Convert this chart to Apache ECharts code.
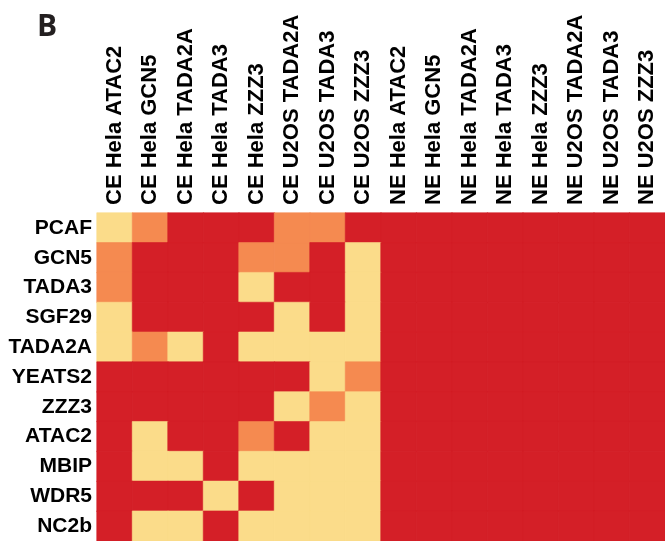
<!DOCTYPE html>
<html>
<head>
<meta charset="utf-8">
<script src="https://cdn.jsdelivr.net/npm/echarts@6/dist/echarts.min.js"></script>
<style>html,body{margin:0;padding:0;background:#fff;}#c{width:665px;height:541px;}</style>
</head>
<body>
<div id="c"></div>
<script>
const columns = ['CE Hela ATAC2','CE Hela GCN5','CE Hela TADA2A','CE Hela TADA3','CE Hela ZZZ3','CE U2OS TADA2A','CE U2OS TADA3','CE U2OS ZZZ3',
                 'NE Hela ATAC2','NE Hela GCN5','NE Hela TADA2A','NE Hela TADA3','NE Hela ZZZ3','NE U2OS TADA2A','NE U2OS TADA3','NE U2OS ZZZ3'];
const rows = ['PCAF','GCN5','TADA3','SGF29','TADA2A','YEATS2','ZZZ3','ATAC2','MBIP','WDR5','NC2b'];
// level: 0 = low (yellow), 1 = mid (orange), 2 = high (red)
const PCAF   = [0,1,2,2,2,1,1,2, 2,2,2,2,2,2,2,2];
const GCN5   = [1,2,2,2,1,1,2,0, 2,2,2,2,2,2,2,2];
const TADA3  = [1,2,2,2,0,2,2,0, 2,2,2,2,2,2,2,2];
const SGF29  = [0,2,2,2,2,0,2,0, 2,2,2,2,2,2,2,2];
const TADA2A = [0,1,0,2,0,0,0,0, 2,2,2,2,2,2,2,2];
const YEATS2 = [2,2,2,2,2,2,0,1, 2,2,2,2,2,2,2,2];
const ZZZ3   = [2,2,2,2,2,0,1,0, 2,2,2,2,2,2,2,2];
const ATAC2  = [2,0,2,2,1,2,0,0, 2,2,2,2,2,2,2,2];
const MBIP   = [2,0,0,2,0,0,0,0, 2,2,2,2,2,2,2,2];
const WDR5   = [2,2,2,0,2,0,0,0, 2,2,2,2,2,2,2,2];
const NC2b   = [2,0,0,2,0,0,0,0, 2,2,2,2,2,2,2,2];
const matrix = [PCAF,GCN5,TADA3,SGF29,TADA2A,YEATS2,ZZZ3,ATAC2,MBIP,WDR5,NC2b];

const levelColors = ['#FBDC8A', '#F58A50', '#D41F27'];

const data = [];
matrix.forEach((row, r) => row.forEach((v, c) => data.push({
  value: [c, r, v],
  itemStyle: {borderColor: levelColors[v], borderWidth: 0.6}
})));

const chart = echarts.init(document.getElementById('c'), null, {renderer: 'canvas'});
chart.setOption({
  animation: false,
  backgroundColor: '#ffffff',
  grid: {left: 97, top: 213, width: 572, height: 330, containLabel: false},
  xAxis: {
    type: 'category', position: 'top', data: columns,
    axisLine: {show: false}, axisTick: {show: false}, splitArea: {show: false},
    axisLabel: {rotate: -90, interval: 0, margin: 8, fontSize: 22, fontWeight: 'bold',
                fontFamily: 'Liberation Sans', color: '#000'}
  },
  yAxis: {
    type: 'category', inverse: true, data: rows,
    axisLine: {show: false}, axisTick: {show: false},
    axisLabel: {interval: 0, margin: 5, fontSize: 21, fontWeight: 'bold',
                fontFamily: 'Liberation Sans', color: '#000'}
  },
  visualMap: {
    type: 'piecewise', show: false, dimension: 2,
    pieces: levelColors.map((col, i) => ({value: i, color: col}))
  },
  graphic: [{
    type: 'text', left: 37, top: 12,
    style: {text: 'B', fontSize: 30, fontWeight: 'bold', fontFamily: 'Open Sans', fill: '#231f20'}
  }],
  series: [{
    type: 'heatmap', data: data,
    emphasis: {disabled: true}
  }]
});
</script>
</body>
</html>
